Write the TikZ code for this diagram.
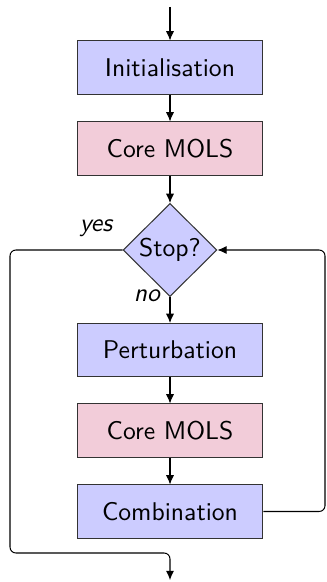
\documentclass[tikz,border=0pt]{standalone}
\usetikzlibrary{shapes.geometric,arrows.meta}
\begin{document}
\begin{tikzpicture}[x=0.39pt,y=-0.39pt,
  font=\sffamily,
  stepbox/.style={draw=black!80,minimum width=72.5pt,minimum height=20.7pt,inner sep=0pt},
  bluebox/.style={stepbox,fill=blue!20},
  pinkbox/.style={stepbox,fill=purple!20},
  decision/.style={diamond,draw=black!80,fill=blue!20,aspect=1,inner sep=0pt,minimum width=36.6pt,minimum height=36.3pt},
  arr/.style={-{Latex[length=3.6pt,width=3.2pt]},line width=0.4pt},
  lbl/.style={font=\sffamily\itshape}]
\useasboundingbox (0,0) rectangle (327,582);
\coordinate (start) at (170,7);
\node[bluebox] (init) at (170,67.5) {Initialisation};
\node[pinkbox] (core1) at (170,148.5) {Core MOLS};
\node[decision] (stop) at (170,250) {Stop?};
\node[bluebox] (pert) at (170,350) {Perturbation};
\node[pinkbox] (core2) at (170,430.5) {Core MOLS};
\node[bluebox] (comb) at (170,511.5) {Combination};
\coordinate (end) at (170,580);
\coordinate (yl) at (10,250);
\coordinate (yb) at (10,553);
\coordinate (yc) at (170,553);
\coordinate (cr) at (325,511.5);
\coordinate (ct) at (325,250);
\draw[arr] (start) -- (init);
\draw[arr] (init) -- (core1);
\draw[arr] (core1) -- (stop);
\draw[arr] (stop) -- (pert);
\draw[arr] (pert) -- (core2);
\draw[arr] (core2) -- (comb);
\draw[arr,rounded corners=2.3pt] (stop.west) -- (yl) -- (yb) -- (yc) -- (end);
\draw[arr,rounded corners=2.3pt] (comb.east) -- (cr) -- (ct) -- (stop.east);
\node[lbl] (yes) at (96,228) {yes};
\node[lbl] (no) at (147,296) {no};
\end{tikzpicture}
\end{document}
